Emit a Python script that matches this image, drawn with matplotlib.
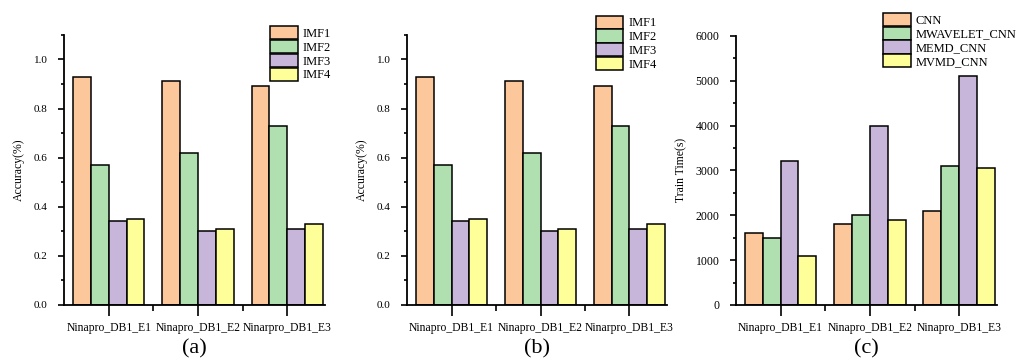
import numpy as np
import matplotlib.pyplot as plt
from matplotlib.ticker import MultipleLocator, FixedLocator

plt.rcParams['font.family'] = ['Liberation Serif', 'DejaVu Serif']

# data
cats_ab = ['Ninapro_DB1_E1', 'Ninapro_DB1_E2', 'Ninarpro_DB1_E3']
cats_c = ['Ninapro_DB1_E1', 'Ninapro_DB1_E2', 'Ninapro_DB1_E3']

imf_names = ['IMF1', 'IMF2', 'IMF3', 'IMF4']
imf1 = [0.93, 0.91, 0.89]
imf2 = [0.57, 0.62, 0.73]
imf3 = [0.34, 0.30, 0.31]
imf4 = [0.35, 0.31, 0.33]

model_names = ['CNN', 'MWAVELET_CNN', 'MEMD_CNN', 'MVMD_CNN']
t_cnn = [1600, 1800, 2100]
t_wavelet = [1500, 2000, 3100]
t_memd = [3200, 4000, 5100]
t_mvmd = [1100, 1900, 3050]

colors = ['#FCC89B', '#B0DFB0', '#C7B6DA', '#FFFF99']

fig = plt.figure(figsize=(10.18, 3.63), dpi=100)


def grouped(ax, series, names, cats, ylim, ystep, ylabel, tag, legend_anchor, ylsize=8):
    x = np.arange(1, len(cats) + 1)
    w = 0.2
    for i, (vals, name) in enumerate(zip(series, names)):
        ax.bar(x - 0.3 + i * w, vals, w, color=colors[i], edgecolor='black',
               linewidth=1.1, label=name, zorder=2)
    ax.set_xlim(0.5, 3.42)
    ax.set_ylim(*ylim)
    ax.yaxis.set_major_locator(MultipleLocator(ystep))
    ax.yaxis.set_minor_locator(MultipleLocator(ystep / 2))
    ax.set_xticks(x)
    ax.set_xticklabels(cats, fontsize=8.4)
    ax.xaxis.set_minor_locator(FixedLocator([1.5, 2.5]))
    ax.tick_params(axis='x', which='major', direction='out', length=8, width=1.2, pad=4)
    ax.tick_params(axis='x', which='minor', direction='out', length=4, width=1.2)
    ax.tick_params(axis='y', which='major', direction='out', length=4, width=1.2,
                   labelsize=ylsize, pad=8)
    ax.tick_params(axis='y', which='minor', direction='out', length=2.5, width=1.2)
    for s in ['top', 'right']:
        ax.spines[s].set_visible(False)
    for s in ['left', 'bottom']:
        ax.spines[s].set_linewidth(1.3)
    ax.set_ylabel(ylabel, fontsize=8.5, labelpad=6)
    ax.legend(loc='upper right', bbox_to_anchor=legend_anchor, frameon=False,
              fontsize=9, handlelength=2.2, handleheight=1.25, labelspacing=0.0,
              handletextpad=0.4, borderaxespad=0)
    ax.text(0.5, -0.163, tag, transform=ax.transAxes, ha='center', va='center',
            fontsize=16)


ax_a = fig.add_axes([0.063, 0.160, 0.256, 0.744])
grouped(ax_a, [imf1, imf2, imf3, imf4], imf_names, cats_ab, (0, 1.1), 0.2,
        'Accuracy(%)', '(a)', (1.043, 1.051))
ax_a.yaxis.set_major_formatter(lambda v, p: f'{v:.1f}')

ax_b = fig.add_axes([0.400, 0.160, 0.255, 0.744])
grouped(ax_b, [imf1, imf2, imf3, imf4], imf_names, cats_ab, (0, 1.1), 0.2,
        'Accuracy(%)', '(b)', (0.979, 1.09))
ax_b.yaxis.set_major_formatter(lambda v, p: f'{v:.1f}')

ax_c = fig.add_axes([0.723, 0.160, 0.256, 0.741])
grouped(ax_c, [t_cnn, t_wavelet, t_memd, t_mvmd], model_names, cats_c, (0, 6000), 1000,
        'Train Time(s)', '(c)', (1.095, 1.105), ylsize=8.5)

fig.savefig('out.png', dpi=100)
